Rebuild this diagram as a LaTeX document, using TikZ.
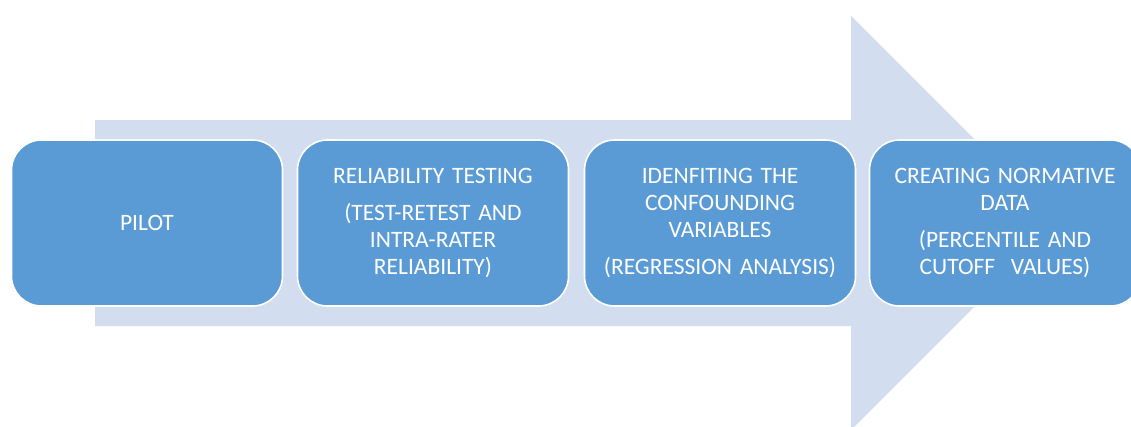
\documentclass[tikz,border=0pt]{standalone}
\usepackage{fontspec}
\setmainfont{Carlito}
\definecolor{stepblue}{HTML}{5B9BD5}
\definecolor{arrowtint}{HTML}{D2DDEF}
\tikzset{
  stepbox/.style={draw=white, line width=1.6pt, fill=stepblue, rounded corners=30pt,
    minimum width=271pt, minimum height=166pt, text width=250pt, align=center,
    text=white, font=\fontsize{23.5}{26.7}\selectfont, inner sep=0pt},
}
\newcommand{\gapline}{\\[10pt]}
\begin{document}
\begin{tikzpicture}[x=1pt,y=-1pt]
  \clip (0,0) rectangle (1131,426);
  \fill[white] (0,0) rectangle (1131,426);
  % broad process arrow behind the steps
  \fill[arrowtint] (95,120) -- (851,120) -- (851,16) -- (1058,223) -- (851,430)
    -- (851,326) -- (95,326) -- cycle;
  % the four steps
  \node[stepbox] (b1) at (147,223) {PILOT};
  \node[stepbox] (b2) at (433,223) {RELIABILITY TESTING\gapline (TEST-RETEST AND\\ INTRA-RATER\\ RELIABILITY)};
  \node[stepbox] (b3) at (720,223) {IDENFITING THE\\ CONFOUNDING\\ VARIABLES\gapline (REGRESSION ANALYSIS)};
  \node[stepbox] (b4) at (1005,223) {CREATING NORMATIVE\\ DATA\gapline (PERCENTILE AND\\ CUTOFF\ \ VALUES)};
\end{tikzpicture}
\end{document}
